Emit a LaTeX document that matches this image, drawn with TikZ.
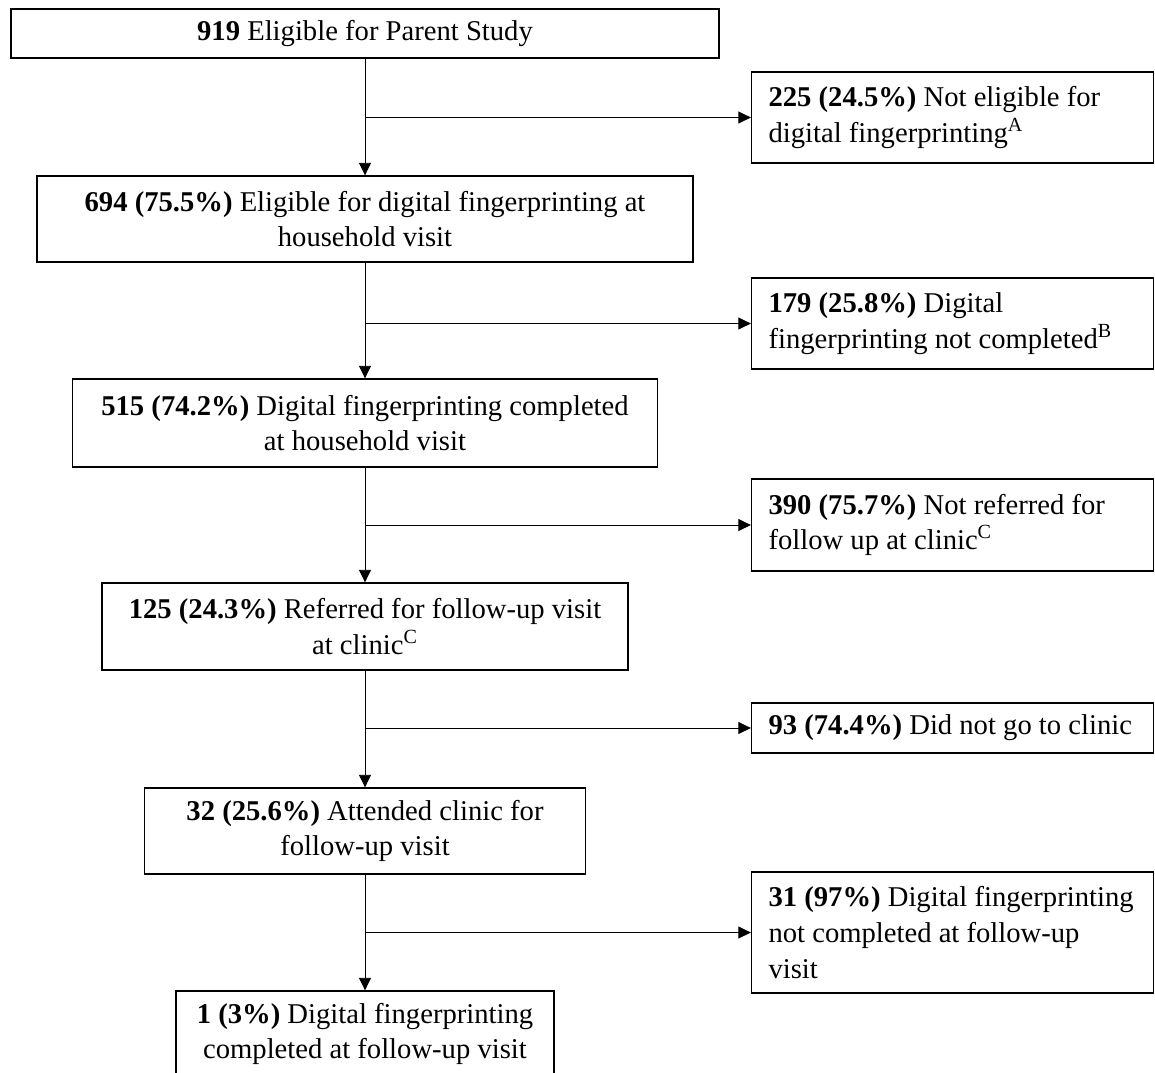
\documentclass[tikz,border=0pt]{standalone}
\usepackage{fontspec}
\setmainfont{Liberation Serif}
\usetikzlibrary{arrows.meta, positioning}

\begin{document}
\begin{tikzpicture}[
    x=0.02cm, y=-0.02cm,
    every node/.style={font=\fontsize{16.3}{20.3}\selectfont},
    stage/.style={rectangle, draw=black, line width=0.8pt, align=center, inner sep=0pt},
    exclude/.style={rectangle, draw=black, line width=0.8pt, align=flush left, inner xsep=0.34cm, inner ysep=0pt, text width=7.36cm},
    arrow/.style={-{Triangle[length=2.5mm, width=2.4mm]}, line width=0.5pt, draw=black}
  ]
    \useasboundingbox (0,0) rectangle (1155,1072);
    \node[stage, minimum width=14.16cm, minimum height=0.98cm] (s1) at (365,33.5) {\textbf{919} Eligible for Parent Study};
    \node[stage, minimum width=13.12cm, minimum height=1.72cm] (s2) at (365,219) {\textbf{694 (75.5\%)} Eligible for digital fingerprinting at\\household visit};
    \node[stage, minimum width=11.70cm, minimum height=1.76cm] (s3) at (365,423) {\textbf{515 (74.2\%)} Digital fingerprinting completed\\at household visit};
    \node[stage, minimum width=10.52cm, minimum height=1.74cm] (s4) at (365,626.5) {\textbf{125 (24.3\%)} Referred for follow-up visit\\at clinic\textsuperscript{C}};
    \node[stage, minimum width=8.82cm, minimum height=1.72cm] (s5) at (365,831) {\textbf{32 (25.6\%)} Attended clinic for\\follow-up visit};
    \node[stage, minimum width=7.56cm, minimum height=1.72cm] (s6) at (365,1034) {\textbf{1 (3\%)} Digital fingerprinting\\completed at follow-up visit};
    \node[exclude, minimum height=1.82cm] (x1) at (952.5,117.5) {\textbf{225 (24.5\%)} Not eligible for\\digital fingerprinting\textsuperscript{A}};
    \node[exclude, minimum height=1.82cm] (x2) at (952.5,323.5) {\textbf{179 (25.8\%)} Digital\\fingerprinting not completed\textsuperscript{B}};
    \node[exclude, minimum height=1.84cm] (x3) at (952.5,525) {\textbf{390 (75.7\%)} Not referred for\\follow up at clinic\textsuperscript{C}};
    \node[exclude, minimum height=1.0cm] (x4) at (952.5,728) {\textbf{93 (74.4\%)} Did not go to clinic};
    \node[exclude, minimum height=2.42cm] (x5) at (952.5,932.5) {\textbf{31 (97\%)} Digital fingerprinting\\not completed at follow-up\\visit};
    \draw[arrow] (s1) -- (s2);
    \draw[arrow] (s2) -- (s3);
    \draw[arrow] (s3) -- (s4);
    \draw[arrow] (s4) -- (s5);
    \draw[arrow] (s5) -- (s6);
    \foreach \i in {1,...,5} {
      \coordinate (b\i) at (s\i.south |- x\i.west);
      \draw[arrow] (b\i) -- (x\i);
    }
  \end{tikzpicture}
\end{document}
